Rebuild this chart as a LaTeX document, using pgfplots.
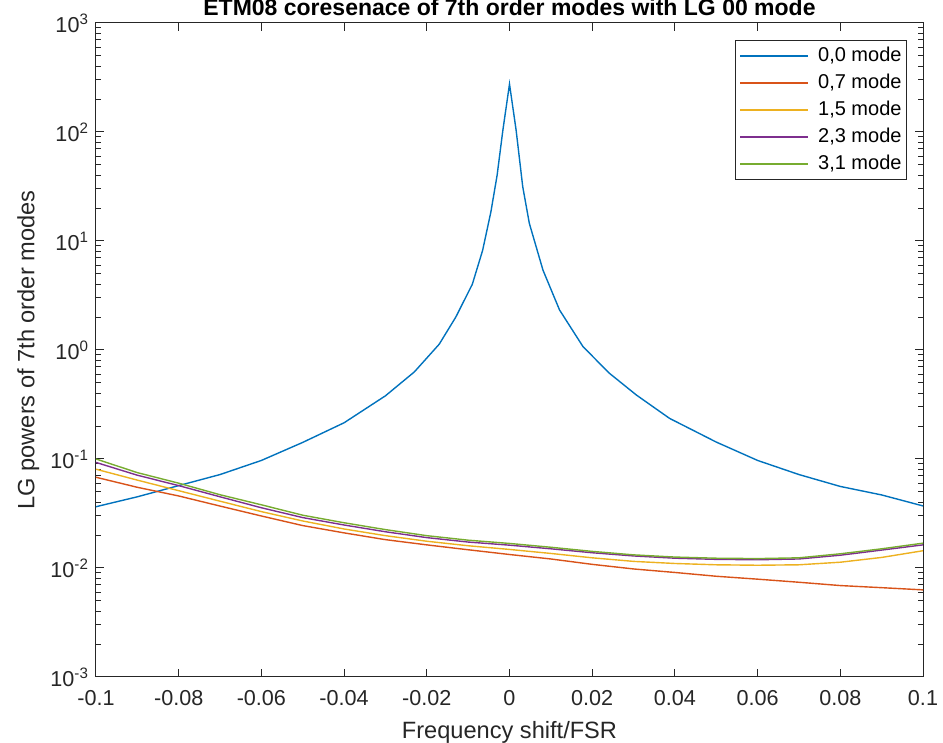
\documentclass[border=0pt]{standalone}
\usepackage{pgfplots}
\pgfplotsset{compat=1.18}
\usepackage{fontspec}
\setmainfont{Liberation Sans}
\definecolor{c1}{rgb}{0,0.447,0.741}
\definecolor{c2}{rgb}{0.850,0.325,0.098}
\definecolor{c3}{rgb}{0.929,0.694,0.125}
\definecolor{c4}{rgb}{0.494,0.184,0.556}
\definecolor{c5}{rgb}{0.466,0.674,0.188}
\definecolor{ax}{rgb}{0.15,0.15,0.15}
\begin{document}
\begin{tikzpicture}
\begin{axis}[
  scale only axis, width=413.5pt, height=327pt,
  xmin=-0.1, xmax=0.1, ymode=log, ymin=1e-3, ymax=1e3,
  xtick={-0.1,-0.08,-0.06,-0.04,-0.02,0,0.02,0.04,0.06,0.08,0.1},
  xticklabels={-0.1,-0.08,-0.06,-0.04,-0.02,0,0.02,0.04,0.06,0.08,0.1},
  ytick={1e-3,1e-2,1e-1,1,10,100,1000},
  yticklabels={10\textsuperscript{-3},10\textsuperscript{-2},10\textsuperscript{-1},10\textsuperscript{0},10\textsuperscript{1},10\textsuperscript{2},10\textsuperscript{3}},
  ticklabel style={font=\fontsize{10.8}{12}\selectfont, text=ax},
  xticklabel style={yshift=-3pt},
  axis line style={ax, line width=0.5pt},
  tick style={ax, line width=0.5pt},
  major tick length=4pt, minor tick length=2.5pt,
  tick align=inside,
  xlabel={Frequency shift/FSR},
  ylabel={LG powers of 7th order modes},
  label style={font=\fontsize{11.8}{13}\selectfont, text=ax},
  xlabel style={at={(axis description cs:0.5,-0.0933)}, anchor=base},
  ylabel style={at={(axis description cs:-0.082,0.5)}, anchor=center},
  title={ETM08 coresenace of 7th order modes with LG 00 mode},
  title style={at={(axis description cs:0.5,1)}, anchor=base, yshift=-2.5pt, font=\fontsize{11.5}{13}\selectfont\bfseries, text=black},
  legend style={at={(0.9807,0.974)}, anchor=north east, font=\fontsize{10}{12}\selectfont, draw=ax, line width=0.5pt, inner xsep=2pt, inner ysep=1pt, cells={anchor=west}, nodes={inner sep=0.5pt, text height=9pt, text depth=3.5pt}, row sep=0pt, column sep=4pt, text=black},
  legend image code/.code={\draw[#1, line width=0.7pt] (0pt,0pt) -- (34pt,0pt);},
  every axis plot/.append style={line width=0.7pt},
]
\addplot[c1] coordinates {
(-0.100,0.0365) (-0.090,0.0450) (-0.080,0.0570) (-0.070,0.0720) (-0.060,0.0970)
(-0.050,0.142) (-0.040,0.215) (-0.030,0.380) (-0.023,0.63) (-0.017,1.13)
(-0.013,2.0) (-0.009,4.0) (-0.0065,8.2) (-0.0045,18.5) (-0.0030,40)
(-0.0016,104) (0,275) (0.0016,104) (0.0032,31.5) (0.0048,14.5)
(0.0081,5.4) (0.0121,2.33) (0.0178,1.07) (0.0242,0.61) (0.0307,0.386)
(0.0387,0.236) (0.050,0.143) (0.060,0.097) (0.070,0.072) (0.080,0.056)
(0.090,0.0468) (0.100,0.0371)};
\addlegendentry{0,0 mode}
\addplot[c2] coordinates {
(-0.10,0.068) (-0.09,0.055) (-0.08,0.0458) (-0.07,0.037) (-0.06,0.030)
(-0.05,0.0245) (-0.04,0.021) (-0.03,0.0182) (-0.02,0.0163) (-0.01,0.0147)
(0,0.0133) (0.01,0.0121) (0.02,0.0108) (0.03,0.0098) (0.04,0.0091)
(0.05,0.0084) (0.06,0.0079) (0.07,0.0074) (0.08,0.0069) (0.09,0.0066) (0.10,0.0063)};
\addlegendentry{0,7 mode}
\addplot[c3] coordinates {
(-0.10,0.0806) (-0.09,0.064) (-0.08,0.0512) (-0.07,0.041) (-0.06,0.0329)
(-0.05,0.027) (-0.04,0.0228) (-0.03,0.0198) (-0.02,0.0176) (-0.01,0.016)
(0,0.0148) (0.01,0.0136) (0.02,0.0124) (0.03,0.0115) (0.04,0.011)
(0.05,0.0107) (0.06,0.0106) (0.07,0.0107) (0.08,0.0113) (0.09,0.0125) (0.10,0.0144)};
\addlegendentry{1,5 mode}
\addplot[c4] coordinates {
(-0.10,0.093) (-0.09,0.071) (-0.08,0.057) (-0.07,0.045) (-0.06,0.0357)
(-0.05,0.029) (-0.04,0.0248) (-0.03,0.0215) (-0.02,0.019) (-0.01,0.0173)
(0,0.0162) (0.01,0.015) (0.02,0.0138) (0.03,0.0129) (0.04,0.0123)
(0.05,0.012) (0.06,0.0119) (0.07,0.0121) (0.08,0.0131) (0.09,0.0146) (0.10,0.0163)};
\addlegendentry{2,3 mode}
\addplot[c5] coordinates {
(-0.10,0.100) (-0.09,0.075) (-0.08,0.060) (-0.07,0.047) (-0.06,0.038)
(-0.05,0.0305) (-0.04,0.026) (-0.03,0.0225) (-0.02,0.0198) (-0.01,0.018)
(0,0.0168) (0.01,0.0155) (0.02,0.0142) (0.03,0.0132) (0.04,0.0126)
(0.05,0.0123) (0.06,0.0122) (0.07,0.0124) (0.08,0.0135) (0.09,0.0150) (0.10,0.0169)};
\addlegendentry{3,1 mode}
\end{axis}
\pgfresetboundingbox
\path[use as bounding box] ([xshift=-48pt,yshift=-33pt]current axis.south west) rectangle ([xshift=10pt,yshift=11.5pt]current axis.north east);
\end{tikzpicture}
\end{document}
